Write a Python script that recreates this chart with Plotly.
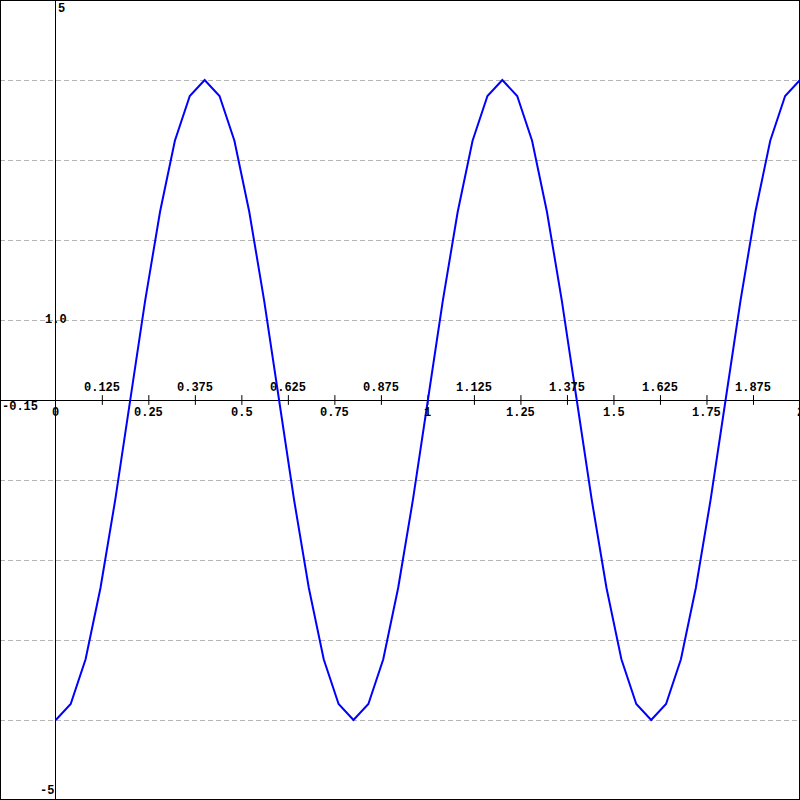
import plotly.graph_objects as go

x_vals = [0.00, 0.04, 0.08, 0.12, 0.16, 0.20, 0.24, 0.28, 0.32, 0.36,
          0.40, 0.44, 0.48, 0.52, 0.56, 0.60, 0.64, 0.68, 0.72, 0.76,
          0.80, 0.84, 0.88, 0.92, 0.96, 1.00, 1.04, 1.08, 1.12, 1.16,
          1.20, 1.24, 1.28, 1.32, 1.36, 1.40, 1.44, 1.48, 1.52, 1.56,
          1.60, 1.64, 1.68, 1.72, 1.76, 1.80, 1.84, 1.88, 1.92, 1.96,
          2.00]
y_vals = [-4.00, -3.80, -3.24, -2.35, -1.24, 0.00, 1.24, 2.35, 3.24, 3.80,
          4.00, 3.80, 3.24, 2.35, 1.24, 0.00, -1.24, -2.35, -3.24, -3.80,
          -4.00, -3.80, -3.24, -2.35, -1.24, 0.00, 1.24, 2.35, 3.24, 3.80,
          4.00, 3.80, 3.24, 2.35, 1.24, 0.00, -1.24, -2.35, -3.24, -3.80,
          -4.00, -3.80, -3.24, -2.35, -1.24, 0.00, 1.24, 2.35, 3.24, 3.80,
          4.00]

x_range = [-0.15, 2]
y_range = [-5, 5]

tick_x = [0.125, 0.25, 0.375, 0.5, 0.625, 0.75, 0.875, 1.0, 1.125, 1.25,
          1.375, 1.5, 1.625, 1.75, 1.875]
upper_label_x = [0.125, 0.375, 0.625, 0.875, 1.125, 1.375, 1.625, 1.875]
upper_labels = ["0.125", "0.375", "0.625", "0.875", "1.125", "1.375", "1.625", "1.875"]
lower_label_x = [0, 0.25, 0.5, 0.75, 1, 1.25, 1.5, 1.75, 2]
lower_labels = ["0", "0.25", "0.5", "0.75", "1", "1.25", "1.5", "1.75", "2"]
grid_y = [-4, -3, -2, -1, 1, 2, 3, 4]

FONT = dict(family="Liberation Mono, Courier New, monospace", size=12, color="black")

fig = go.Figure()

fig.add_trace(go.Scatter(
    x=tick_x, y=[0] * len(tick_x), mode="markers",
    marker=dict(symbol="line-ns", size=7, line=dict(width=1, color="black")),
    hoverinfo="skip", showlegend=False))

fig.add_trace(go.Scatter(
    x=x_vals, y=y_vals, mode="lines",
    line=dict(color="#0000ff", width=2),
    showlegend=False))

annotations = []
for xv, t in zip(upper_label_x, upper_labels):
    annotations.append(dict(x=xv, y=0, text="<b>" + t + "</b>", showarrow=False,
                            xanchor="center", yanchor="middle", yshift=12, font=FONT))
for xv, t in zip(lower_label_x, lower_labels):
    annotations.append(dict(x=xv, y=0, text="<b>" + t + "</b>", showarrow=False,
                            xanchor="center", yanchor="middle", yshift=-13, font=FONT))
annotations.append(dict(x=x_range[0], y=0, text="<b>-0.15</b>", showarrow=False,
                        xanchor="left", yanchor="middle", yshift=-7, font=FONT))
annotations.append(dict(x=0, y=y_range[1], text="<b>5</b>", showarrow=False,
                        xanchor="left", yanchor="top", font=FONT))
annotations.append(dict(x=0, y=1, text="<b>1.0</b>", showarrow=False,
                        xanchor="center", yanchor="middle", font=FONT))
annotations.append(dict(x=0, y=y_range[0], text="<b>-5</b>", showarrow=False,
                        xanchor="right", yanchor="bottom", font=FONT))

fig.update_layout(
    width=800, height=800,
    margin=dict(l=0, r=0, t=0, b=0, pad=0, autoexpand=False),
    paper_bgcolor="white", plot_bgcolor="white",
    annotations=annotations,
    shapes=[dict(type="rect", xref="paper", yref="paper", x0=0, y0=0, x1=1, y1=1,
                 line=dict(color="black", width=2))],
    xaxis=dict(range=x_range, showgrid=False, zeroline=True, zerolinecolor="black",
               zerolinewidth=1, showticklabels=False, ticks=""),
    yaxis=dict(range=y_range, tickvals=grid_y, showgrid=True, gridcolor="#b4b4b4",
               griddash="5px,3px", gridwidth=1, zeroline=True, zerolinecolor="black",
               zerolinewidth=1, showticklabels=False, ticks=""),
)

fig.write_html("out.html",
               config={"displayModeBar": False},
               post_script="document.body.style.margin='0';document.body.style.overflow='hidden';")
